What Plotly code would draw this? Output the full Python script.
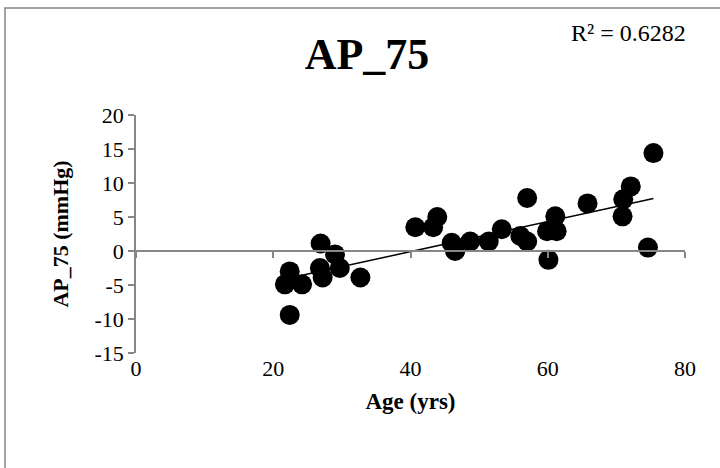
import numpy as np
import plotly.graph_objects as go

ages = [21.7, 22.4, 22.4, 24.2, 26.8, 26.9, 27.2, 29.0, 29.7, 32.7,
        40.7, 43.3, 43.9, 46.0, 46.5, 48.7, 51.4, 53.3, 56.0, 57.0,
        57.0, 59.9, 60.1, 61.1, 61.3, 65.8, 70.9, 71.0, 72.1, 74.6, 75.4]
ap75 = [-4.9, -3.0, -9.4, -4.9, -2.5, 1.1, -3.9, -0.5, -2.5, -3.9,
        3.5, 3.5, 5.0, 1.2, 0.0, 1.4, 1.4, 3.2, 2.2, 1.4,
        7.8, 2.9, -1.3, 5.1, 2.9, 7.0, 5.1, 7.6, 9.5, 0.5, 14.4]
x_ticks = [0, 20, 40, 60, 80]
x_tick_labels = ["0", "20", "40", "60", "80"]
y_ticks = [-15, -10, -5, 0, 5, 10, 15, 20]
y_tick_labels = ["-15", "-10", "-5", "0", "5", "10", "15", "20"]
title_text = "AP_75"
r2_text = "R² = 0.6282"
x_title = "Age (yrs)"
y_title = "AP_75 (mmHg)"

FONT = "Liberation Serif, Times New Roman, serif"
GRAY = "#868686"

slope, intercept = np.polyfit(ages, ap75, 1)
xfit = [min(ages), max(ages)]
yfit = [slope * v + intercept for v in xfit]

ymin, ymax = y_ticks[0], y_ticks[-1]
fig = go.Figure()
fig.add_trace(go.Scatter(x=ages, y=ap75, mode="markers",
                         marker=dict(color="black", size=20), showlegend=False,
                         hoverinfo="skip"))
fig.add_trace(go.Scatter(x=xfit, y=yfit, mode="lines", xaxis="x2",
                         line=dict(color="black", width=1.5), showlegend=False,
                         hoverinfo="skip"))

fig.update_layout(
    width=720, height=468,
    margin=dict(l=136, r=35, t=115, b=115),
    paper_bgcolor="white", plot_bgcolor="white",
    font=dict(family=FONT, color="black", size=22),
    title=dict(text="<b>" + title_text + "</b>", x=367 / 720, xanchor="center",
               y=1 - 54 / 468, yanchor="middle",
               font=dict(family=FONT, size=44, color="black")),
    xaxis=dict(range=[0, 80], tickvals=x_ticks, ticktext=x_tick_labels,
               showline=False, ticks="", showgrid=False, zeroline=False,
               tickfont=dict(family=FONT, size=22),
               title=dict(text="<b>" + x_title + "</b>", standoff=12,
                          font=dict(family=FONT, size=23))),
    xaxis2=dict(overlaying="x", matches="x", anchor="free",
                position=(0 - ymin) / (ymax - ymin), side="bottom",
                range=[0, 80], tickvals=x_ticks, showticklabels=False,
                showline=True, linecolor=GRAY, linewidth=1.5,
                ticks="outside", ticklen=6, tickcolor=GRAY, tickwidth=1.5,
                showgrid=False, zeroline=False),
    yaxis=dict(range=[ymin, ymax], tickvals=y_ticks, ticktext=y_tick_labels,
               showline=True, linecolor=GRAY, linewidth=1.5, ticks="outside",
               ticklen=6, tickcolor=GRAY, tickwidth=1.5, showgrid=False,
               zeroline=False, tickfont=dict(family=FONT, size=22),
               title=dict(text="<b>" + y_title + "</b>", standoff=20,
                          font=dict(family=FONT, size=22))),
    annotations=[dict(text=r2_text, xref="paper", yref="paper",
                      x=(628 - 136) / 549, y=(353 - 33) / 238,
                      xanchor="center", yanchor="middle", showarrow=False,
                      font=dict(family=FONT, size=24, color="black"))],
    shapes=[dict(type="rect", xref="paper", yref="paper",
                 x0=(5 - 136) / 549, x1=(730 - 136) / 549,
                 y0=(353 - 480) / 238, y1=(353 - 8) / 238,
                 line=dict(color=GRAY, width=1.5), layer="below")],
)

fig.write_html("out.html")
